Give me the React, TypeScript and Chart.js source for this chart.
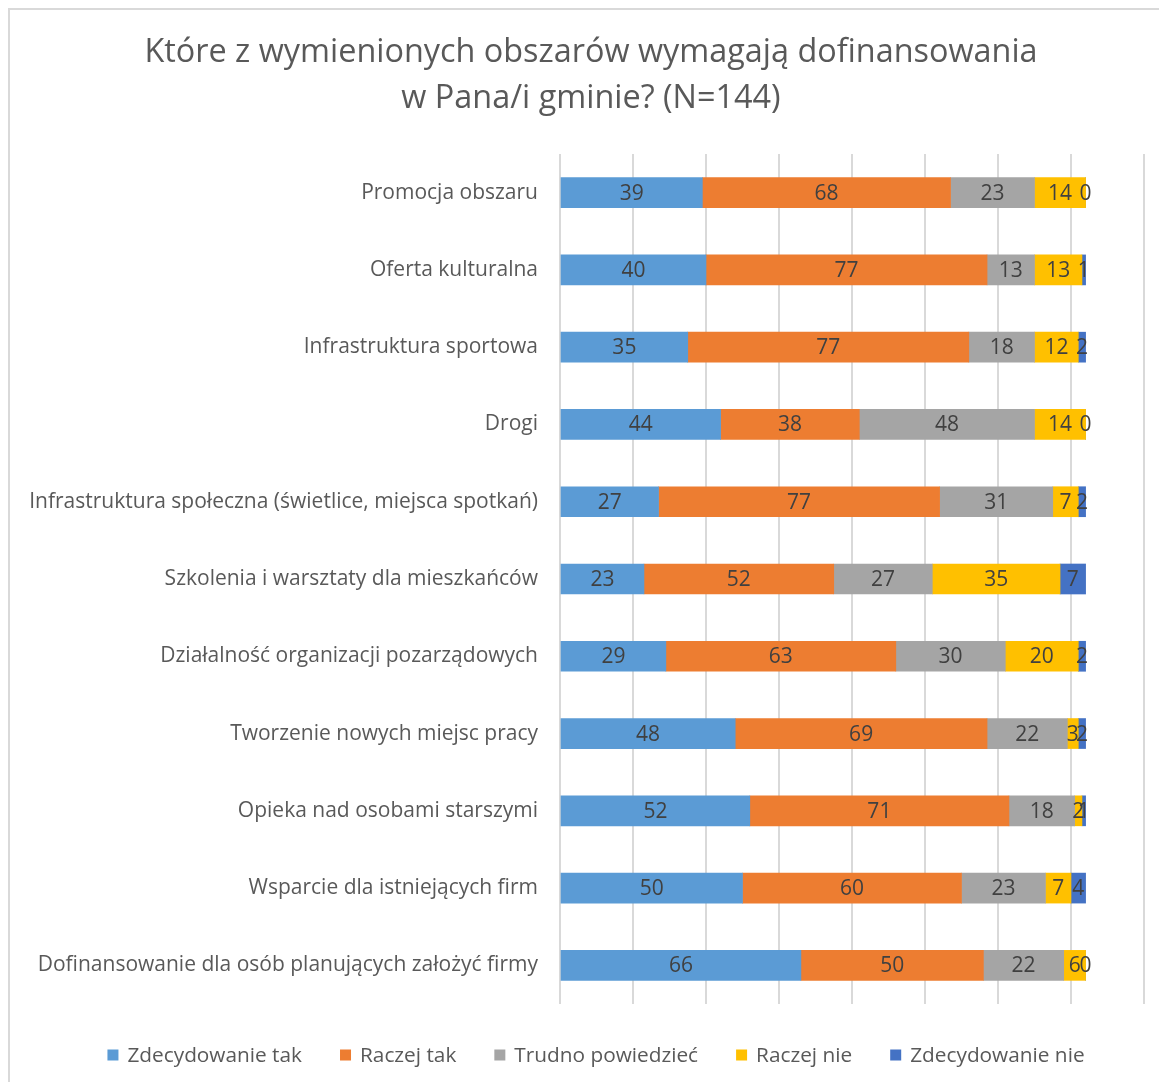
import React, { useEffect, useRef } from "react";
import { Chart, registerables } from "chart.js";

Chart.register(...registerables);

const categories = [
  "Promocja obszaru",
  "Oferta kulturalna",
  "Infrastruktura sportowa",
  "Drogi",
  "Infrastruktura społeczna (świetlice, miejsca spotkań)",
  "Szkolenia i warsztaty dla mieszkańców",
  "Działalność organizacji pozarządowych",
  "Tworzenie nowych miejsc pracy",
  "Opieka nad osobami starszymi",
  "Wsparcie dla istniejących firm",
  "Dofinansowanie dla osób planujących założyć firmy",
];

const seriesNames = [
  "Zdecydowanie tak",
  "Raczej tak",
  "Trudno powiedzieć",
  "Raczej nie",
  "Zdecydowanie nie",
];

const zdecydowanieTak = [39, 40, 35, 44, 27, 23, 29, 48, 52, 50, 66];
const raczejTak = [68, 77, 77, 38, 77, 52, 63, 69, 71, 60, 50];
const trudnoPowiedziec = [23, 13, 18, 48, 31, 27, 30, 22, 18, 23, 22];
const raczejNie = [14, 13, 12, 14, 7, 35, 20, 3, 2, 7, 6];
const zdecydowanieNie = [0, 1, 2, 0, 2, 7, 2, 2, 1, 4, 0];

const seriesColors = ["#5B9BD5", "#ED7D31", "#A5A5A5", "#FFC000", "#4472C4"];

const titleLines = [
  "Które z wymienionych obszarów wymagają dofinansowania",
  "w Pana/i gminie? (N=144)",
];

const FONT = "'Open Sans', 'DejaVu Sans', sans-serif";

const titlePlugin = {
  id: "centeredTitle",
  afterDraw(chart: any) {
    const ctx = chart.ctx;
    ctx.save();
    ctx.font = `32.4px ${FONT}`;
    ctx.fillStyle = "#595959";
    ctx.textAlign = "center";
    ctx.textBaseline = "middle";
    titleLines.forEach((line, i) => {
      ctx.fillText(line, 581, 43 + i * 46);
    });
    ctx.restore();
  },
};

const dataLabelsPlugin = {
  id: "stackLabels",
  afterDatasetsDraw(chart: any) {
    const ctx = chart.ctx;
    ctx.save();
    ctx.font = `21px ${FONT}`;
    ctx.fillStyle = "#404040";
    ctx.textAlign = "center";
    ctx.textBaseline = "middle";
    chart.data.datasets.forEach((ds: any, i: number) => {
      const meta = chart.getDatasetMeta(i);
      if (meta.hidden) return;
      meta.data.forEach((el: any, j: number) => {
        const p = el.getProps(["x", "y", "base"], true);
        ctx.fillText(String(ds.data[j]), (p.x + p.base) / 2, p.y + 1);
      });
    });
    ctx.restore();
  },
};

const bottomLegendPlugin = {
  id: "bottomLegend",
  afterDraw(chart: any) {
    const ctx = chart.ctx;
    const box = 11;
    const gap = 9;
    const spacing = 38;
    const centerX = 586;
    const centerY = 1045;
    ctx.save();
    ctx.font = `20.8px ${FONT}`;
    ctx.textBaseline = "middle";
    ctx.textAlign = "left";
    const items = chart.data.datasets.map((ds: any) => ({
      label: ds.label as string,
      color: ds.backgroundColor as string,
      w: ctx.measureText(ds.label).width,
    }));
    const total =
      items.reduce((s: number, it: any) => s + box + gap + it.w, 0) +
      spacing * (items.length - 1);
    let x = centerX - total / 2;
    items.forEach((it: any) => {
      ctx.fillStyle = it.color;
      ctx.fillRect(x, centerY - box / 2, box, box);
      ctx.fillStyle = "#595959";
      ctx.fillText(it.label, x + box + gap, centerY + 1);
      x += box + gap + it.w + spacing;
    });
    ctx.restore();
  },
};

export default function App() {
  const ref = useRef<HTMLCanvasElement | null>(null);

  useEffect(() => {
    if (!ref.current) return;
    const values = [zdecydowanieTak, raczejTak, trudnoPowiedziec, raczejNie, zdecydowanieNie];
    const chart = new Chart(ref.current, {
      type: "bar",
      data: {
        labels: categories,
        datasets: seriesNames.map((name, i) => ({
          label: name,
          data: values[i],
          backgroundColor: seriesColors[i],
          borderWidth: 0,
          barThickness: 30,
        })),
      },
      options: {
        indexAxis: "y",
        responsive: true,
        maintainAspectRatio: false,
        animation: false,
        layout: { padding: { left: 0, right: 5, top: 144, bottom: 78 } },
        scales: {
          x: {
            stacked: true,
            min: 0,
            max: 160,
            ticks: { display: false, stepSize: 20 },
            grid: { color: "#d9d9d9", lineWidth: 2, drawTicks: false },
            border: { display: false },
          },
          y: {
            stacked: true,
            grid: { display: false, drawTicks: false },
            border: { display: false },
            ticks: {
              color: "#595959",
              font: { family: FONT, size: 21 },
              padding: 22,
            },
            afterFit: (scale: any) => {
              scale.width = 550;
            },
          },
        },
        plugins: {
          title: { display: false },
          legend: { display: false },
          tooltip: { enabled: false },
        },
      },
      plugins: [dataLabelsPlugin, titlePlugin, bottomLegendPlugin],
    });
    return () => chart.destroy();
  }, []);

  return (
    <div
      style={{
        width: 1151,
        height: 1074,
        boxSizing: "border-box",
        borderTop: "2px solid #d9d9d9",
        borderLeft: "2px solid #d9d9d9",
        background: "#ffffff",
        position: "relative",
      }}
    >
      <div style={{ position: "absolute", left: 0, top: 0, right: 10, bottom: 0 }}>
        <canvas ref={ref} />
      </div>
    </div>
  );
}
